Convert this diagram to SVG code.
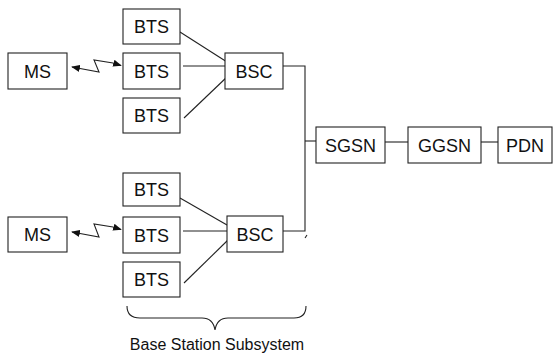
<svg xmlns="http://www.w3.org/2000/svg" width="553" height="354" viewBox="0 0 553 354">
  <style>
    .box rect { fill: #fff; stroke: #222; stroke-width: 1.1; }
    .box text { font-family: "Liberation Sans", Arial, sans-serif; font-size: 18px; fill: #111; text-anchor: middle; }
    .wire { fill: none; stroke: #222; stroke-width: 1.1; }
    .radio { fill: none; stroke: #222; stroke-width: 1.1; marker-start: url(#head); marker-end: url(#head); }
    .caption { font-family: "Liberation Sans", Arial, sans-serif; font-size: 16px; fill: #111; }
  </style>
  <defs>
    <marker id="head" viewBox="0 0 10 8" refX="9" refY="4" markerWidth="9" markerHeight="7" markerUnits="userSpaceOnUse" orient="auto-start-reverse">
      <path d="M0,0 L10,4 L0,8 Z" fill="#111"/>
    </marker>
  </defs>

  <rect width="553" height="354" fill="#fff"/>

  <!-- connectors -->
  <g id="connectors">
    <!-- upper cell -->
    <path class="radio" d="M72,67 L99,72 L94,60 L113,63 L121,65.5"/>
    <line class="wire" x1="180" y1="32" x2="227" y2="62"/>
    <line class="wire" x1="183" y1="66" x2="225" y2="66"/>
    <line class="wire" x1="184" y1="118" x2="228" y2="76"/>
    <!-- lower cell -->
    <path class="radio" d="M72,232 L99,237 L94,224 L113,227 L121,229.5"/>
    <line class="wire" x1="180" y1="198" x2="227" y2="225"/>
    <line class="wire" x1="183" y1="231" x2="227" y2="231"/>
    <line class="wire" x1="184" y1="283" x2="228" y2="240"/>
    <!-- trunk to SGSN -->
    <path class="wire" d="M283,66 H305 V231 H283"/>
    <line class="wire" x1="305" y1="141" x2="316" y2="141"/>
    <line class="wire" x1="305" y1="238" x2="307" y2="235"/>
    <!-- core chain -->
    <line class="wire" x1="385" y1="142" x2="408" y2="142"/>
    <line class="wire" x1="481" y1="142" x2="498" y2="142"/>
  </g>

  <g id="ms1" class="box"><rect x="8" y="53" width="59" height="36"/><text x="37.5" y="77.5">MS</text></g>
  <g id="bts1" class="box"><rect x="123" y="9" width="57" height="35"/><text x="151.5" y="33">BTS</text></g>
  <g id="bts2" class="box"><rect x="123" y="53" width="57" height="36"/><text x="151.5" y="77.5">BTS</text></g>
  <g id="bts3" class="box"><rect x="123" y="98" width="57" height="35"/><text x="151.5" y="122">BTS</text></g>
  <g id="bsc1" class="box"><rect x="225" y="53" width="58" height="36"/><text x="254" y="77.5">BSC</text></g>

  <g id="ms2" class="box"><rect x="8" y="217" width="59" height="35"/><text x="37.5" y="241">MS</text></g>
  <g id="bts4" class="box"><rect x="123" y="173" width="57" height="33"/><text x="151.5" y="196">BTS</text></g>
  <g id="bts5" class="box"><rect x="123" y="217" width="57" height="36"/><text x="151.5" y="241.5">BTS</text></g>
  <g id="bts6" class="box"><rect x="123" y="262" width="57" height="35"/><text x="151.5" y="286">BTS</text></g>
  <g id="bsc2" class="box"><rect x="227" y="216" width="56" height="36"/><text x="255" y="240.5">BSC</text></g>

  <g id="sgsn" class="box"><rect x="316" y="127" width="69" height="36"/><text x="350.5" y="151.5">SGSN</text></g>
  <g id="ggsn" class="box"><rect x="408" y="127" width="73" height="36"/><text x="444.5" y="151.5">GGSN</text></g>
  <g id="pdn" class="box"><rect x="498" y="127" width="54" height="36"/><text x="525" y="151.5">PDN</text></g>

  <!-- subsystem brace and caption -->
  <g id="bss-brace">
    <path class="wire" d="M127,306 Q127,318 140,318 H202 Q213,318 215,330 Q217,318 228,318 H294 Q306,318 306,306"/>
    <text class="caption" x="217" y="350" text-anchor="middle">Base Station Subsystem</text>
  </g>
</svg>
